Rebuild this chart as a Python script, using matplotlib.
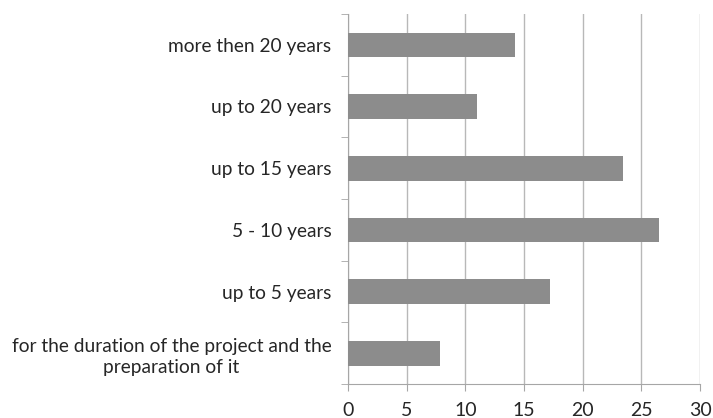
import matplotlib.pyplot as plt
import numpy as np

# Data
categories = ['for the duration of the project and the\npreparation of it',
              'up to 5 years', '5 - 10 years', 'up to 15 years',
              'up to 20 years', 'more then 20 years']
values = [7.8, 17.2, 26.5, 23.4, 11.0, 14.2]
x_ticks = [0, 5, 10, 15, 20, 25, 30]

plt.rcParams['font.family'] = ['Lato', 'DejaVu Sans']

fig = plt.figure(figsize=(7.13, 4.18), dpi=100)
ax = fig.add_axes([348 / 713, 1 - 384 / 418, 352 / 713, 370 / 418])

y = np.arange(len(categories))
ax.barh(y, values, height=0.4, color='#8c8c8c', zorder=3)

ax.set_xlim(0, 30)
ax.set_ylim(-0.5, len(categories) - 0.5)
ax.set_xticks(x_ticks)
ax.set_xticklabels([str(t) for t in x_ticks], fontsize=14, color='#262626')
ax.set_yticks(y)
ax.set_yticklabels(categories, fontsize=13.8, color='#262626',
                   multialignment='center', linespacing=1.3)

# category separators on the y-axis
ax.set_yticks(np.arange(-0.5, len(categories)), minor=True)
ax.tick_params(axis='y', which='major', length=0, pad=12)
ax.tick_params(axis='y', which='minor', length=5, color='#a6a6a6', direction='out')
ax.tick_params(axis='x', length=5, color='#a6a6a6', pad=8)

ax.grid(axis='x', color='#b8b8b8', linewidth=1, zorder=0)
for s in ['top', 'right']:
    ax.spines[s].set_visible(False)
for s in ['left', 'bottom']:
    ax.spines[s].set_color('#a6a6a6')

fig.savefig('out.png', dpi=100)
